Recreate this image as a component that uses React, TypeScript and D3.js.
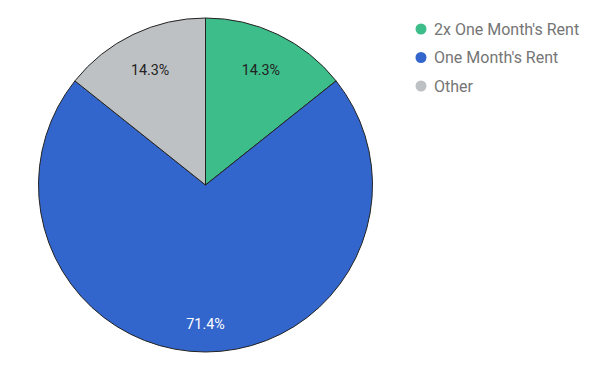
import React from "react";
import * as d3 from "d3";

const categories = ["2x One Month's Rent", "One Month's Rent", "Other"];
const values = [1, 5, 1];
const colors = ["#3dbd8a", "#3366cc", "#bec1c4"];
const labelColors = ["#222222", "#ffffff", "#222222"];

export default function App() {
  const width = 600;
  const height = 371;
  const cx = 205.5;
  const cy = 185;
  const r = 167;

  const total = d3.sum(values);
  const pie = d3.pie<number>().sort(null).value((d) => d);
  const arcs = pie(values);
  const arc = d3.arc<d3.PieArcDatum<number>>().innerRadius(0).outerRadius(r);

  return (
    <svg width={width} height={height} style={{ position: "absolute", left: 0, top: 0 }}>
      <g transform={`translate(${cx},${cy})`}>
        {arcs.map((a, i) => (
          <path key={i} d={arc(a) || ""} fill={colors[i]} stroke="#222" strokeWidth={1} />
        ))}
        {arcs.map((a, i) => {
          const mid = (a.startAngle + a.endAngle) / 2;
          // big slice labels sit a bit further out
          const f = a.endAngle - a.startAngle > Math.PI ? 0.83 : 0.765;
          const x = Math.sin(mid) * r * f;
          const y = -Math.cos(mid) * r * f;
          return (
            <text key={i} x={x} y={y} dy="0.35em" textAnchor="middle"
              fontFamily="Roboto" fontSize={14.3} fill={labelColors[i]}>
              {d3.format(".1%")(values[i] / total)}
            </text>
          );
        })}
      </g>
      <g transform="translate(421,29)">
        {categories.map((c, i) => (
          <g key={c} transform={`translate(0,${i * 28.5})`}>
            <circle r={5.5} fill={colors[i]} />
            <text x={13} dy="0.35em" fontFamily="Roboto" fontSize={16} fill="#757575">{c}</text>
          </g>
        ))}
      </g>
    </svg>
  );
}
